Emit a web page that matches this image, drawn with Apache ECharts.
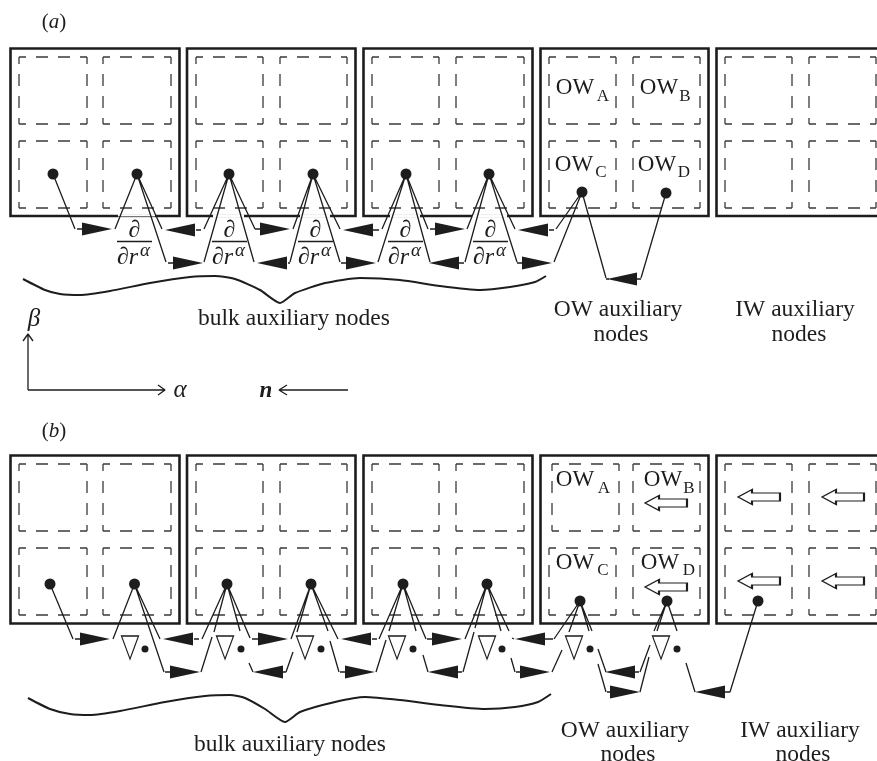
<!DOCTYPE html>
<html><head><meta charset="utf-8">
<style>html,body{margin:0;padding:0;background:#fff}#c{width:877px;height:761px}</style>
<script src="https://cdn.jsdelivr.net/npm/echarts@6/dist/echarts.min.js"></script>
</head><body><div id="c"></div>
<script>
// Cell outlines
const cellLefts = [10.5, 187, 363.5, 540.5, 716.5];
const cellRights = [179.5, 355.5, 532.5, 708.5, 890];
const panelTops = [48.5, 455.5];
const panelBottoms = [216, 623.5];
// Breaks in the lower outline of panel (a), behind the fractions
const outlineBreaks = [[118,155],[213,244],[300,330],[390,420],[472,507]];
const outlineBreakY = 216;
const faintOutline = [[[118,216.6],[155,216.6]]];
// Dashed quadrant edges per cell
const quadXs = [[19,87,103,171],[196,263,280,347],[372,439,456,524],[549,616,633,700],[725,792,809,876]];
const quadYsA = [57,124,141,208];
const quadYsB = [464,531,548,615];
const shiftedQuadB = [552,619]; // upper-left quadrant in OW cell of panel b
// Nodes
const nodesA = [[53,174],[137,174],[229,174],[313,174],[406,174],[489,174],[582,192],[666,193]];
const nodesB = [[50,584],[134.5,584],[227,584],[311,584],[403,584],[487,584],[580,601],[667,601],[758,601]];
// Wires (a)
const wiresA = [
 [[53,174],[75,229]],[[77,229],[82,229]],[[115,229],[137,174]],[[137,174],[162,229]],[[137,174],[166,262]],[[168,263],[173,263]],
 [[196,230],[201,230]],[[204,229],[229,174]],[[204,262],[229,174]],[[229,174],[255,229]],[[229,174],[254,262]],[[255,229],[260,229]],
 [[288,263],[290,263]],[[293,229],[313,174]],[[290,262],[313,174]],[[313,174],[340,229]],[[313,174],[340,262]],[[341,263],[347,263]],
 [[373,230],[379,230]],[[382,229],[406,174]],[[378,262],[406,174]],[[406,174],[428,229]],[[406,174],[430,262]],[[430,229],[437,229]],
 [[459,263],[464,263]],[[467,229],[489,174]],[[465,262],[489,174]],[[489,174],[515,229]],[[489,174],[517,262]],[[517,263],[523,263]],
 [[549,230],[554,230]],[[556,229],[582,192]],[[554,262],[582,192]],[[582,192],[606,278]],[[606,279],[609,279]],[[636,279],[641,279]],[[641,278],[666,193]]
];
// Wires (b)
const wiresB = [
 [[50,584],[73,639]],[[75,639],[80,639]],[[113,639],[134.5,584]],[[134.5,584],[160,639]],[[134.5,584],[164,672]],[[165,672],[171,672]],
 [[194,639],[199,639]],[[202,639],[227,584]],[[201,672],[212,637]],[[214,632],[227,584]],[[227,584],[240,631]],[[227,584],[250,638]],[[252,639],[259,639]],
 [[249,663],[253,672]],[[281,672],[286,672]],[[286,672],[293,652]],[[297,632],[311,584]],[[291,639],[311,584]],[[311,584],[338,639]],[[311,584],[328,631]],
 [[330,641],[339,672]],[[340,672],[346,672]],[[372,639],[377,639]],[[379,639],[403,584]],[[376,672],[386,640]],[[389,631],[403,584]],[[403,584],[426,639]],[[403,584],[416,631]],
 [[427,639],[432,639]],[[423,655],[428,672]],[[456,672],[462,672]],[[465,639],[487,584]],[[463,672],[474,632]],[[475,628],[487,584]],[[487,584],[509,631]],[[512,638],[514,639]],[[487,584],[501,631]],
 [[511,658],[515,672]],[[516,672],[521,672]],[[545,639],[553,639]],[[554,639],[580,601]],[[552,672],[562,650]],[[569,632],[580,601]],[[580,601],[589,631]],[[580,601],[592,631]],
 [[598,649],[606,672]],[[634,672],[639,672]],[[640,672],[650,645]],[[598,664],[606,692]],[[607,692],[612,692]],[[640,692],[649,657]],
 [[667,601],[654,631]],[[667,601],[657,631]],[[667,601],[677,631]],[[686,663],[695,692]],[[724,692],[730,692]],[[730,692],[758,601]]
];
// Filled arrowheads: [centreX, y]
const rightArrows = [[97,229],[275,229],[450,229],[188,263],[361,263],[537,263],[95,639],[273,639],[447,639],[185,672],[360,672],[535,672],[625,692]];
const leftArrows = [[180,230],[358,230],[533,230],[272,263],[444,263],[622,279],[178,639],[356,639],[530,639],[268,672],[443,672],[620,672],[710,692]];
// Nabla triangles, small dots
const nablaXs = [130,225,305,397,487,574,661];
const nablaY = 647.5;
const dotXs = [145,241,321,413,502,590,677];
const dotY = 649;
// Block arrows [centreX, y]
const blockArrows = [[666,503],[666,587],[759,497],[843,497],[759,581],[843,581]];
// Braces
const braceA = [[23,279],[45,290],[60,294],[80,295],[110,291],[150,283],[190,277],[215,276],[235,279],[260,290],[280,303],[295,293],[325,283],[360,278],[400,280],[440,286],[480,290],[510,287],[535,282],[546,276]];
const braceB = [[28,698],[50,709],[70,714],[90,715],[120,711],[165,702],[205,696],[230,695],[245,698],[265,709],[285,722],[300,712],[335,702],[365,697],[400,700],[440,705],[485,709],[515,707],[538,702],[551,694]];
// Coordinate arrows
const axisLines = [[[28,390],[28,334]],[[23,341],[28,334],[33,341]],[[28,390],[165,390]],[[158,385],[165,390],[158,395]],[[348,390],[279,390]],[[287,385],[279,390],[287,395]]];
// Fractions
const fractionCentres = [134.5,229.5,315.5,405.5,490.5];
const fractionBarY = 241.5;
// Text
const bigLabels = [["bulk auxiliary nodes",294,319],["OW auxiliary",618,310],["nodes",621,335],["IW auxiliary",795,310],["nodes",799,335],
 ["bulk auxiliary nodes",290,745],["OW auxiliary",625,731],["nodes",628,755],["IW auxiliary",800,731],["nodes",803,755]];
const owLabels = [["OW",575,88],["OW",659,88],["OW",574,165],["OW",657,165],["OW",575,480],["OW",663,480],["OW",575,563],["OW",660,563]];
const subLabels = [["A",603,97],["B",685,97],["C",601,173],["D",684,173],["A",604,489],["B",689,489],["C",603,571],["D",689,571]];
const panelLabels = [["{p|(}{i|a}{p|)}",54,22],["{p|(}{i|b}{p|)}",54,431]];
const greekLabels = [["β",34,319],["α",180,390]];
const vecLabels = [["n",266,391]];

function flat(list){const out=[];list.forEach((p,i)=>{if(i)out.push(['-','-']);p.forEach(q=>out.push(q));});return out;}
const rects=[];panelTops.forEach((t,i)=>cellLefts.forEach((l,k)=>{const r=cellRights[k],b=panelBottoms[i];rects.push([[l,t],[r,t],[r,b],[l,b],[l,t]]);}));
const dashes=[];
function quad(x0,x1,y0,y1){dashes.push([[x0,y0],[x1,y0]],[[x0,y1],[x1,y1]],[[x0,y0],[x0,y1]],[[x1,y0],[x1,y1]]);}
[quadYsA,quadYsB].forEach((ys,p)=>quadXs.forEach((xs,k)=>{
  const sx=(p===1&&k===3)?shiftedQuadB:[xs[0],xs[1]];
  quad(sx[0],sx[1],ys[0],ys[1]);quad(xs[2],xs[3],ys[0],ys[1]);
  quad(xs[0],xs[1],ys[2],ys[3]);quad(xs[2],xs[3],ys[2],ys[3]);
}));
const ink='#1d1d1d';
const serif='Liberation Serif';
const lineBase={type:'line',showSymbol:false,symbol:'none',silent:true,animation:false,connectNulls:false};
const textBase={type:'scatter',symbolSize:1,silent:true,animation:false,itemStyle:{color:'rgba(0,0,0,0)',opacity:1}};
function txt(list,font){return Object.assign({},textBase,{z:10,data:list.map(d=>({value:[d[1],d[2]],label:{show:true,position:'inside',formatter:d[0],color:ink,fontFamily:serif,fontSize:font.size,fontStyle:font.style||'normal',fontWeight:font.weight||'normal',rich:font.rich}}))});}
const fracTop=fractionCentres.map(c=>["∂",c,231]);
const fracBot=fractionCentres.map(c=>["{d|∂}{r|r}",c-7,258]);
const fracA=fractionCentres.map(c=>["α",c+10.5,251]);
const solid=(color)=>({color,opacity:1});
const chart=echarts.init(document.getElementById('c'),null,{renderer:'canvas'});
chart.setOption({
 animation:false,
 grid:{left:0,right:0,top:0,bottom:0,containLabel:false},
 xAxis:{type:'value',min:0,max:877,show:false},
 yAxis:{type:'value',min:0,max:761,inverse:true,show:false},
 series:[
  Object.assign({},lineBase,{z:3,data:flat(dashes),lineStyle:{color:'#3a3a3a',width:1.3,type:[12,10],dashOffset:5}}),
  Object.assign({},lineBase,{z:2,data:flat(rects),lineStyle:{color:ink,width:2.6,cap:'square',join:'miter'}}),
  Object.assign({},lineBase,{z:2,zlevel:0,data:flat(outlineBreaks.map(b=>[[b[0],outlineBreakY],[b[1],outlineBreakY]])),lineStyle:{color:'#fff',width:3.4}}),
  Object.assign({},lineBase,{z:2,data:flat(faintOutline),lineStyle:{color:'#666',width:1}}),
  Object.assign({},lineBase,{z:4,data:flat(wiresA.concat(wiresB)),lineStyle:{color:ink,width:1.3}}),
  Object.assign({},lineBase,{z:4,data:flat(axisLines),lineStyle:{color:ink,width:1.3}}),
  Object.assign({},lineBase,{z:4,smooth:0.2,data:flat([braceA,braceB]),lineStyle:{color:ink,width:2}}),
  Object.assign({},lineBase,{z:4,data:flat(fractionCentres.map(c=>[[c-17.5,fractionBarY],[c+17.5,fractionBarY]])),lineStyle:{color:ink,width:1.3}}),
  {type:'scatter',silent:true,animation:false,z:6,symbol:'circle',symbolSize:11,itemStyle:solid(ink),data:nodesA.concat(nodesB)},
  {type:'scatter',silent:true,animation:false,z:6,symbol:'circle',symbolSize:7,itemStyle:solid(ink),data:dotXs.map(x=>[x,dotY])},
  {type:'scatter',silent:true,animation:false,z:6,symbol:'triangle',symbolSize:[13,30],symbolRotate:-90,itemStyle:solid(ink),data:rightArrows},
  {type:'scatter',silent:true,animation:false,z:6,symbol:'triangle',symbolSize:[13,30],symbolRotate:90,itemStyle:solid(ink),data:leftArrows},
  {type:'scatter',silent:true,animation:false,z:6,symbol:'triangle',symbolSize:[17,23],symbolRotate:180,itemStyle:{color:'#fff',opacity:1,borderColor:ink,borderWidth:1.3},data:nablaXs.map(x=>[x,nablaY])},
  {type:'scatter',silent:true,animation:false,z:6,symbol:'path://M0 7.5L14 0L14 3.5L42 3.5L42 11.5L14 11.5L14 15Z',symbolSize:[42,15],itemStyle:{color:'#fff',opacity:1,borderColor:ink,borderWidth:1.3},data:blockArrows},
  txt(bigLabels,{size:23.5}),
  txt(owLabels,{size:23}),
  txt(subLabels,{size:17}),
  txt(panelLabels,{size:21,rich:{p:{fontFamily:serif,fontSize:21,color:ink},i:{fontFamily:serif,fontSize:21,fontStyle:'italic',color:ink}}}),
  txt(greekLabels,{size:25,style:'italic'}),
  txt(vecLabels,{size:23,style:'italic',weight:'bold'}),
  txt(fracTop,{size:24}),
  txt(fracBot,{size:24,rich:{d:{fontFamily:serif,fontSize:24,color:ink},r:{fontFamily:serif,fontSize:24,fontStyle:'italic',color:ink}}}),
  txt(fracA,{size:19,style:'italic'})
 ]
});
</script></body></html>
